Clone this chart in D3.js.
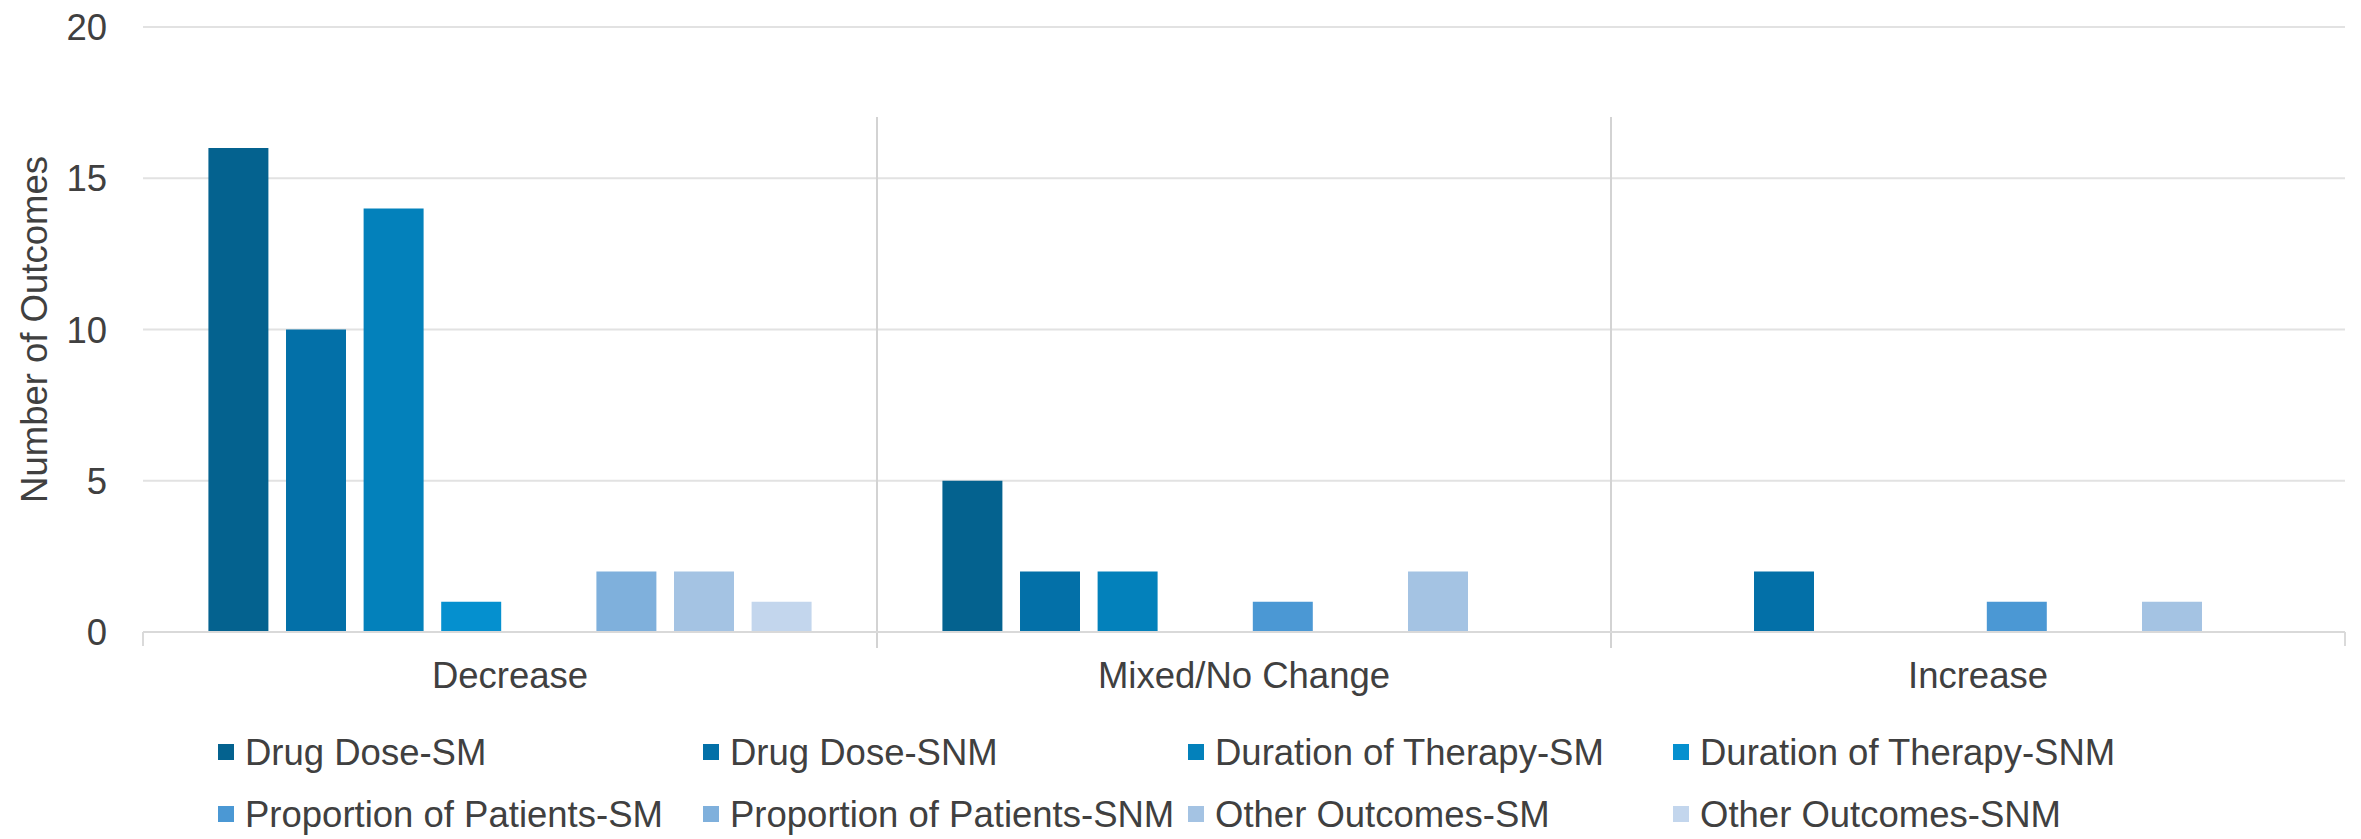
<!DOCTYPE html>
<html>
<head>
<meta charset="utf-8">
<script src="https://cdn.jsdelivr.net/npm/d3@7"></script>
<style>
  html, body { margin: 0; padding: 0; background: #ffffff; }
  svg { display: block; }
  text { font-family: "Liberation Sans", Arial, sans-serif; fill: #404040; }
</style>
</head>
<body>
<svg id="chart" width="2361" height="839"></svg>
<script>
// Outcome groups on the category axis
const categories = ["Decrease", "Mixed/No Change", "Increase"];

// Series names, in legend / bar order
const seriesNames = [
  "Drug Dose-SM", "Drug Dose-SNM",
  "Duration of Therapy-SM", "Duration of Therapy-SNM",
  "Proportion of Patients-SM", "Proportion of Patients-SNM",
  "Other Outcomes-SM", "Other Outcomes-SNM"
];

// Number of outcomes per group (Decrease, Mixed/No Change, Increase)
const drugDoseSM       = [16, 5, 0];
const drugDoseSNM      = [10, 2, 2];
const durationSM       = [14, 2, 0];
const durationSNM      = [1, 0, 0];
const proportionSM     = [0, 1, 1];
const proportionSNM    = [2, 0, 0];
const otherOutcomesSM  = [2, 2, 1];
const otherOutcomesSNM = [1, 0, 0];

const seriesColors = [
  "#04628f", "#0370a8", "#0381bb", "#0590cf",
  "#4b98d4", "#7fb0dc", "#a4c3e3", "#c3d6ed"
];

const yTicks = [0, 5, 10, 15, 20];

const seriesValues = [
  drugDoseSM, drugDoseSNM, durationSM, durationSNM,
  proportionSM, proportionSNM, otherOutcomesSM, otherOutcomesSNM
];

const rows = categories.map((c, ci) => ({
  category: c,
  bars: seriesNames.map((s, si) => ({ series: s, value: seriesValues[si][ci], color: seriesColors[si] }))
}));

const svg = d3.select("#chart");
const plot = { left: 143, right: 2345, top: 27, bottom: 632 };
const fontSize = 36.5;

const x0 = d3.scaleBand().domain(categories).range([plot.left, plot.right]).padding(0);
const x1 = d3.scaleBand().domain(seriesNames).range([0, x0.bandwidth()])
  .paddingInner(0.227).paddingOuter(0.843);
const y = d3.scaleLinear().domain([0, 20]).range([plot.bottom, plot.top]);

// Horizontal gridlines
svg.append("g")
  .selectAll("line")
  .data(yTicks.filter(t => t > 0))
  .join("line")
  .attr("x1", plot.left).attr("x2", plot.right)
  .attr("y1", d => y(d)).attr("y2", d => y(d))
  .attr("stroke", "#e2e2e2").attr("stroke-width", 2);

// Vertical separators between groups
const boundaries = categories.map(c => x0(c)).concat([x0.range()[1]]);
svg.append("g")
  .selectAll("line")
  .data(boundaries.slice(1, -1))
  .join("line")
  .attr("x1", d => d).attr("x2", d => d)
  .attr("y1", 117).attr("y2", plot.bottom + 16)
  .attr("stroke", "#d3d3d3").attr("stroke-width", 2);

// Category tick marks at the outer edges
svg.append("g")
  .selectAll("line")
  .data([boundaries[0], boundaries[boundaries.length - 1]])
  .join("line")
  .attr("x1", d => d).attr("x2", d => d)
  .attr("y1", plot.bottom).attr("y2", plot.bottom + 14)
  .attr("stroke", "#dadada").attr("stroke-width", 2);

// Bars
const groups = svg.append("g")
  .selectAll("g")
  .data(rows)
  .join("g")
  .attr("transform", d => `translate(${x0(d.category)},0)`);

groups.selectAll("rect")
  .data(d => d.bars.filter(b => b.value > 0))
  .join("rect")
  .attr("x", d => x1(d.series))
  .attr("width", x1.bandwidth())
  .attr("y", d => y(d.value))
  .attr("height", d => y(0) - y(d.value))
  .attr("fill", d => d.color);

// Category axis line
svg.append("line")
  .attr("x1", plot.left).attr("x2", plot.right)
  .attr("y1", y(0)).attr("y2", y(0))
  .attr("stroke", "#d9d9d9").attr("stroke-width", 2);

// Y tick labels
svg.append("g")
  .selectAll("text")
  .data(yTicks)
  .join("text")
  .attr("x", 107)
  .attr("y", d => y(d))
  .attr("dy", "0.36em")
  .attr("text-anchor", "end")
  .style("font-size", fontSize + "px")
  .text(d => d);

// Y axis title
svg.append("text")
  .attr("transform", `translate(47,${(plot.top + plot.bottom) / 2}) rotate(-90)`)
  .attr("text-anchor", "middle")
  .style("font-size", fontSize + "px")
  .text("Number of Outcomes");

// Category labels
svg.append("g")
  .selectAll("text")
  .data(categories)
  .join("text")
  .attr("x", d => x0(d) + x0.bandwidth() / 2)
  .attr("y", 688)
  .attr("text-anchor", "middle")
  .style("font-size", fontSize + "px")
  .text(d => d);

// Legend: 4 columns x 2 rows
const legendCol = 485, legendLeft = 218, legendRows = [765, 827], sw = 16;
const legend = svg.append("g")
  .selectAll("g")
  .data(seriesNames)
  .join("g")
  .attr("transform", (d, i) => `translate(${legendLeft + (i % 4) * legendCol},${legendRows[Math.floor(i / 4)]})`);

legend.append("rect")
  .attr("x", 0).attr("y", -13 - sw / 2)
  .attr("width", sw).attr("height", sw)
  .attr("fill", (d, i) => seriesColors[i]);

legend.append("text")
  .attr("x", sw + 11)
  .attr("y", 0)
  .style("font-size", fontSize + "px")
  .text(d => d);
</script>
</body>
</html>
